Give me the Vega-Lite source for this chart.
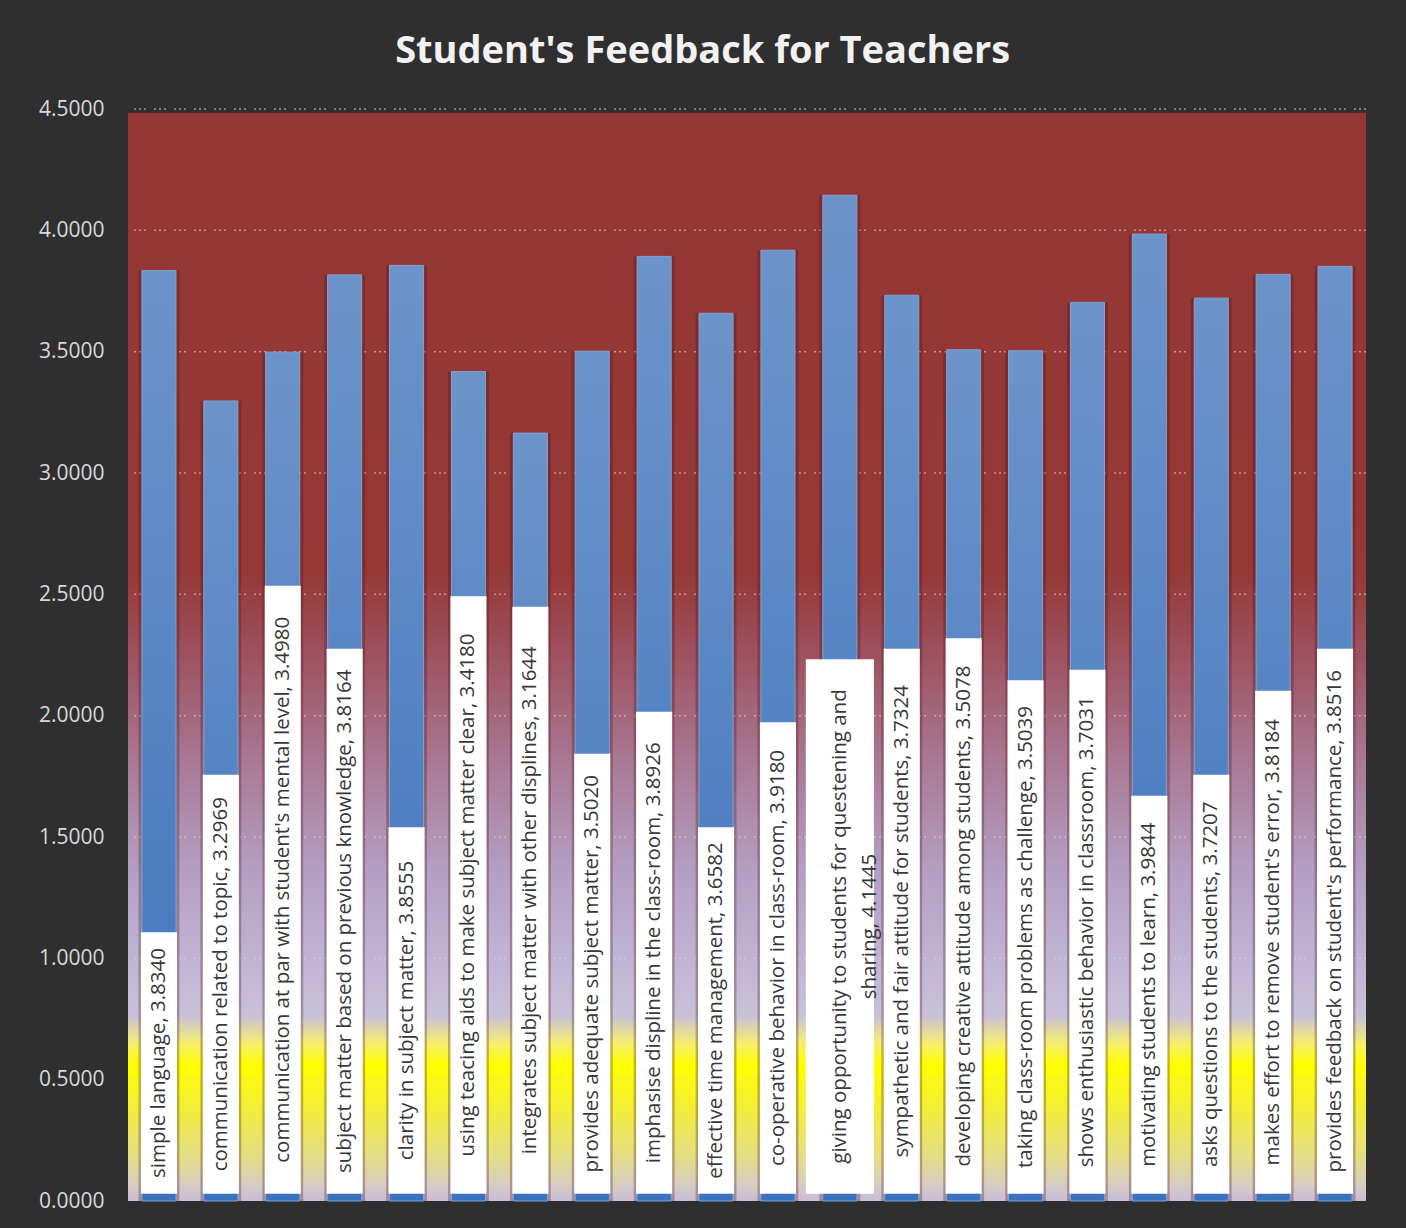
{
  "$schema": "https://vega.github.io/schema/vega-lite/v6.json",
  "width": 1238,
  "height": 1092,
  "autosize": {"type": "none"},
  "padding": {"left": 128, "top": 109, "right": 40, "bottom": 27},
  "background": "#2f2f2f",
  "title": {
    "text": "Student's Feedback for Teachers",
    "font": "Open Sans",
    "fontSize": 38,
    "fontWeight": "bold",
    "color": "#f2f2f2",
    "anchor": "middle",
    "frame": "bounds",
    "offset": 27
  },
  "config": {"view": {"stroke": null}},
  "data": {
    "values": [
      {"item": "simple language", "value": 3.834},
      {"item": "communication related to topic", "value": 3.2969},
      {"item": "communication at par with student's mental level", "value": 3.498},
      {"item": "subject matter based on previous knowledge", "value": 3.8164},
      {"item": "clarity in subject matter", "value": 3.8555},
      {"item": "using teacing aids to make subject matter clear", "value": 3.418},
      {"item": "integrates subject matter with other displines", "value": 3.1644},
      {"item": "provides adequate subject matter", "value": 3.502},
      {"item": "imphasise displine in the class-room", "value": 3.8926},
      {"item": "effective time management", "value": 3.6582},
      {"item": "co-operative behavior in class-room", "value": 3.918},
      {"item": "giving opportunity to students for questening and\nsharing", "value": 4.1445},
      {"item": "sympathetic and fair attitude for students", "value": 3.7324},
      {"item": "developing creative attitude among students", "value": 3.5078},
      {"item": "taking class-room problems as challenge", "value": 3.5039},
      {"item": "shows enthusiastic behavior in classroom", "value": 3.7031},
      {"item": "motivating students to learn", "value": 3.9844},
      {"item": "asks questions to the students", "value": 3.7207},
      {"item": "makes effort to remove student's error", "value": 3.8184},
      {"item": "provides feedback on student's performance", "value": 3.8516}
    ]
  },
  "transform": [
    {"calculate": "datum.item + ', ' + format(datum.value, '.4f')", "as": "label"},
    {"calculate": "split(datum.label, '\\n')", "as": "lines"},
    {"calculate": "length(datum.lines)", "as": "nLines"},
    {"calculate": "max(length(datum.lines[0]), datum.nLines > 1 ? length(datum.lines[1]) : 0)", "as": "maxLen"},
    {"calculate": "0.03 + (datum.maxLen * 10.5 + 20) / 242.7", "as": "boxTop"},
    {"calculate": "(0.03 + datum.boxTop) / 2", "as": "textY"}
  ],
  "layer": [
    {
      "data": {"values": [{}]},
      "mark": {
        "type": "rect",
        "color": {
          "gradient": "linear", "x1": 0, "y1": 0, "x2": 0, "y2": 1,
          "stops": [
            {"offset": 0, "color": "#943634"},
            {"offset": 0.42, "color": "#953836"},
            {"offset": 0.5, "color": "#9e5260"},
            {"offset": 0.6, "color": "#a97a96"},
            {"offset": 0.7, "color": "#b4a0c4"},
            {"offset": 0.78, "color": "#c0b4d4"},
            {"offset": 0.83, "color": "#c9c1d8"},
            {"offset": 0.855, "color": "#f6ee70"},
            {"offset": 0.875, "color": "#ffff00"},
            {"offset": 0.91, "color": "#f4f030"},
            {"offset": 0.96, "color": "#e4dd88"},
            {"offset": 0.985, "color": "#d6cdc2"},
            {"offset": 1, "color": "#c8bcd8"}
          ]
        }
      },
      "encoding": {
        "y": {
          "datum": 4.485,
          "type": "quantitative",
          "scale": {"domain": [0, 4.5], "nice": false},
          "axis": {
            "title": null,
            "values": [0, 0.5, 1, 1.5, 2, 2.5, 3, 3.5, 4, 4.5],
            "format": ".4f",
            "labelColor": "#d9d9d9",
            "labelFont": "Open Sans",
            "labelFontSize": 21,
            "labelPadding": 24,
            "domain": false,
            "ticks": false,
            "grid": false
          }
        },
        "y2": {"datum": 0}
      }
    },
    {
      "data": {"values": [{"g": 0.5}, {"g": 1.0}, {"g": 1.5}, {"g": 2.0}, {"g": 2.5}, {"g": 3.0}, {"g": 3.5}, {"g": 4.0}, {"g": 4.5}]},
      "mark": {"type": "rule", "color": "#f0d0d0", "opacity": 0.6, "strokeWidth": 1.5, "strokeDash": [2, 3, 2, 3, 2, 8]},
      "encoding": {
        "y": {"field": "g", "type": "quantitative"}
      }
    },
    {
      "mark": {"type": "bar", "color": "#4a1010", "opacity": 0.3, "width": {"band": 1.2}},
      "encoding": {
        "x": {"field": "item", "type": "nominal", "sort": null, "scale": {"paddingInner": 0.45, "paddingOuter": 0.225}, "axis": null},
        "y": {"field": "value", "type": "quantitative"}
      }
    },
    {
      "mark": {
        "type": "bar",
        "stroke": "#7fa3d6",
        "strokeWidth": 1,
        "color": {
          "gradient": "linear", "x1": 0, "y1": 0, "x2": 0, "y2": 1,
          "stops": [
            {"offset": 0, "color": "#6d94ca"},
            {"offset": 1, "color": "#3b72bd"}
          ]
        }
      },
      "encoding": {
        "x": {"field": "item", "type": "nominal", "sort": null},
        "y": {"field": "value", "type": "quantitative"}
      }
    },
    {
      "transform": [{"filter": "datum.nLines == 1"}],
      "mark": {"type": "bar", "color": "#ffffff", "width": {"band": 1.06}},
      "encoding": {
        "x": {"field": "item", "type": "nominal", "sort": null},
        "y": {"field": "boxTop", "type": "quantitative"},
        "y2": {"datum": 0.03}
      }
    },
    {
      "transform": [{"filter": "datum.nLines == 2"}],
      "mark": {"type": "bar", "color": "#ffffff", "width": {"band": 2.0}},
      "encoding": {
        "x": {"field": "item", "type": "nominal", "sort": null},
        "y": {"field": "boxTop", "type": "quantitative"},
        "y2": {"datum": 0.03}
      }
    },
    {
      "mark": {
        "type": "text",
        "angle": 270,
        "align": "center",
        "baseline": "middle",
        "lineBreak": "\n",
        "lineHeight": 30,
        "font": "Open Sans",
        "fontSize": 20.5,
        "color": "#383838"
      },
      "encoding": {
        "x": {"field": "item", "type": "nominal", "sort": null},
        "y": {"field": "textY", "type": "quantitative"},
        "text": {"field": "label"}
      }
    }
  ]
}
